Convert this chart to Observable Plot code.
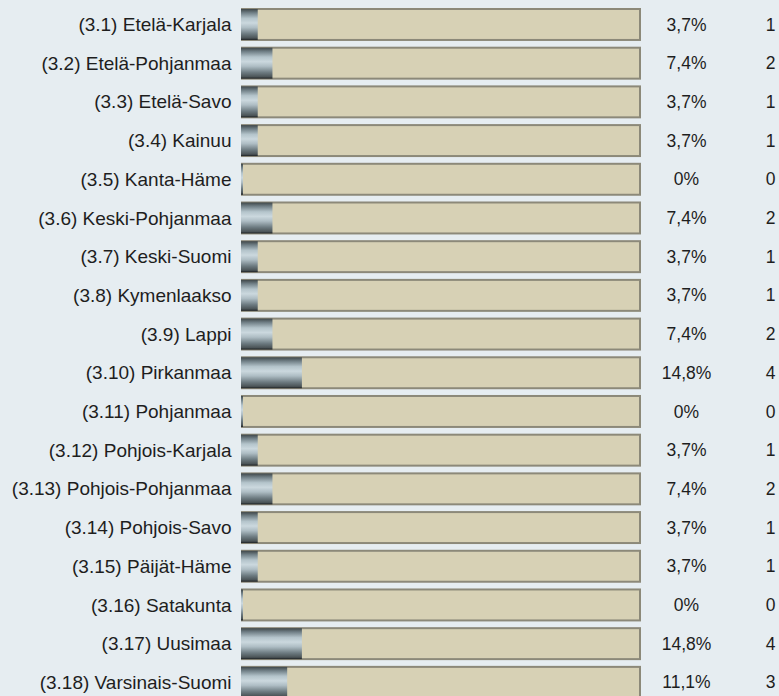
<!DOCTYPE html>
<html><head><meta charset="utf-8">
<script src="https://cdn.jsdelivr.net/npm/d3@7"></script>
<script src="https://cdn.jsdelivr.net/npm/@observablehq/plot@0.6"></script>
<style>
html,body{margin:0;padding:0;background:#e6edf1;}
</style></head><body><div id="chart"></div>
<script>
const regions = ["(3.1) Etelä-Karjala","(3.2) Etelä-Pohjanmaa","(3.3) Etelä-Savo","(3.4) Kainuu","(3.5) Kanta-Häme","(3.6) Keski-Pohjanmaa","(3.7) Keski-Suomi","(3.8) Kymenlaakso","(3.9) Lappi","(3.10) Pirkanmaa","(3.11) Pohjanmaa","(3.12) Pohjois-Karjala","(3.13) Pohjois-Pohjanmaa","(3.14) Pohjois-Savo","(3.15) Päijät-Häme","(3.16) Satakunta","(3.17) Uusimaa","(3.18) Varsinais-Suomi"];
const percents = [3.7,7.4,3.7,3.7,0,7.4,3.7,3.7,7.4,14.8,0,3.7,7.4,3.7,3.7,0,14.8,11.1];
const counts = [1,2,1,1,0,2,1,1,2,4,0,1,2,1,1,0,4,3];

const data = regions.map((r,i)=>({region:r, pct:percents[i], n:counts[i]}));
const fmtPct = v => (v === 0 ? "0" : v.toFixed(1).replace(".", ",")) + "%";

const defs = () => {
  const d = d3.create("svg:defs");
  const g = d.append("linearGradient").attr("id","metal").attr("x1",0).attr("y1",0).attr("x2",0).attr("y2",1);
  [[0,"#3f4749"],[0.12,"#6f7e85"],[0.3,"#b4c4cb"],[0.45,"#cbd8de"],[0.6,"#aebdc4"],[0.8,"#6d7b81"],[0.94,"#4b5457"],[1,"#1c2022"]]
    .forEach(([o,c])=>g.append("stop").attr("offset",o).attr("stop-color",c));
  return d.node();
};

const chart = Plot.plot({
  width: 779, height: 696, margin: 0,
  style: {background: "transparent", fontFamily: "'Liberation Sans', Arial, sans-serif"},
  x: {domain:[0,100], range:[242,640], axis:null},
  y: {domain: regions, range:[5.13, 701.7], paddingInner:0.2, paddingOuter:0.1, round:false, axis:null},
  marks: [
    defs,
    Plot.barX(data, {x1: 0, x2: 100, y:"region", fill:"#d7d1b5", stroke:"#8c8979", strokeWidth:2}),
    Plot.barX(data, {x1: 0, x2: "pct", y:"region", fill:"url(#metal)", insetLeft:-1, insetRight:-1}),
    Plot.text(data, {x:0, y:"region", text:"region", textAnchor:"end", dx:-11, fontSize:19, fill:"#1e1e1e"}),
    Plot.text(data, {x:100, y:"region", text: d => fmtPct(d.pct), textAnchor:"middle", dx:46, fontSize:17.5, fill:"#1e1e1e"}),
    Plot.text(data, {x:100, y:"region", text:"n", textAnchor:"end", dx:135, fontSize:17.5, fill:"#1e1e1e"})
  ]
});
document.getElementById("chart").appendChild(chart);
</script></body></html>
